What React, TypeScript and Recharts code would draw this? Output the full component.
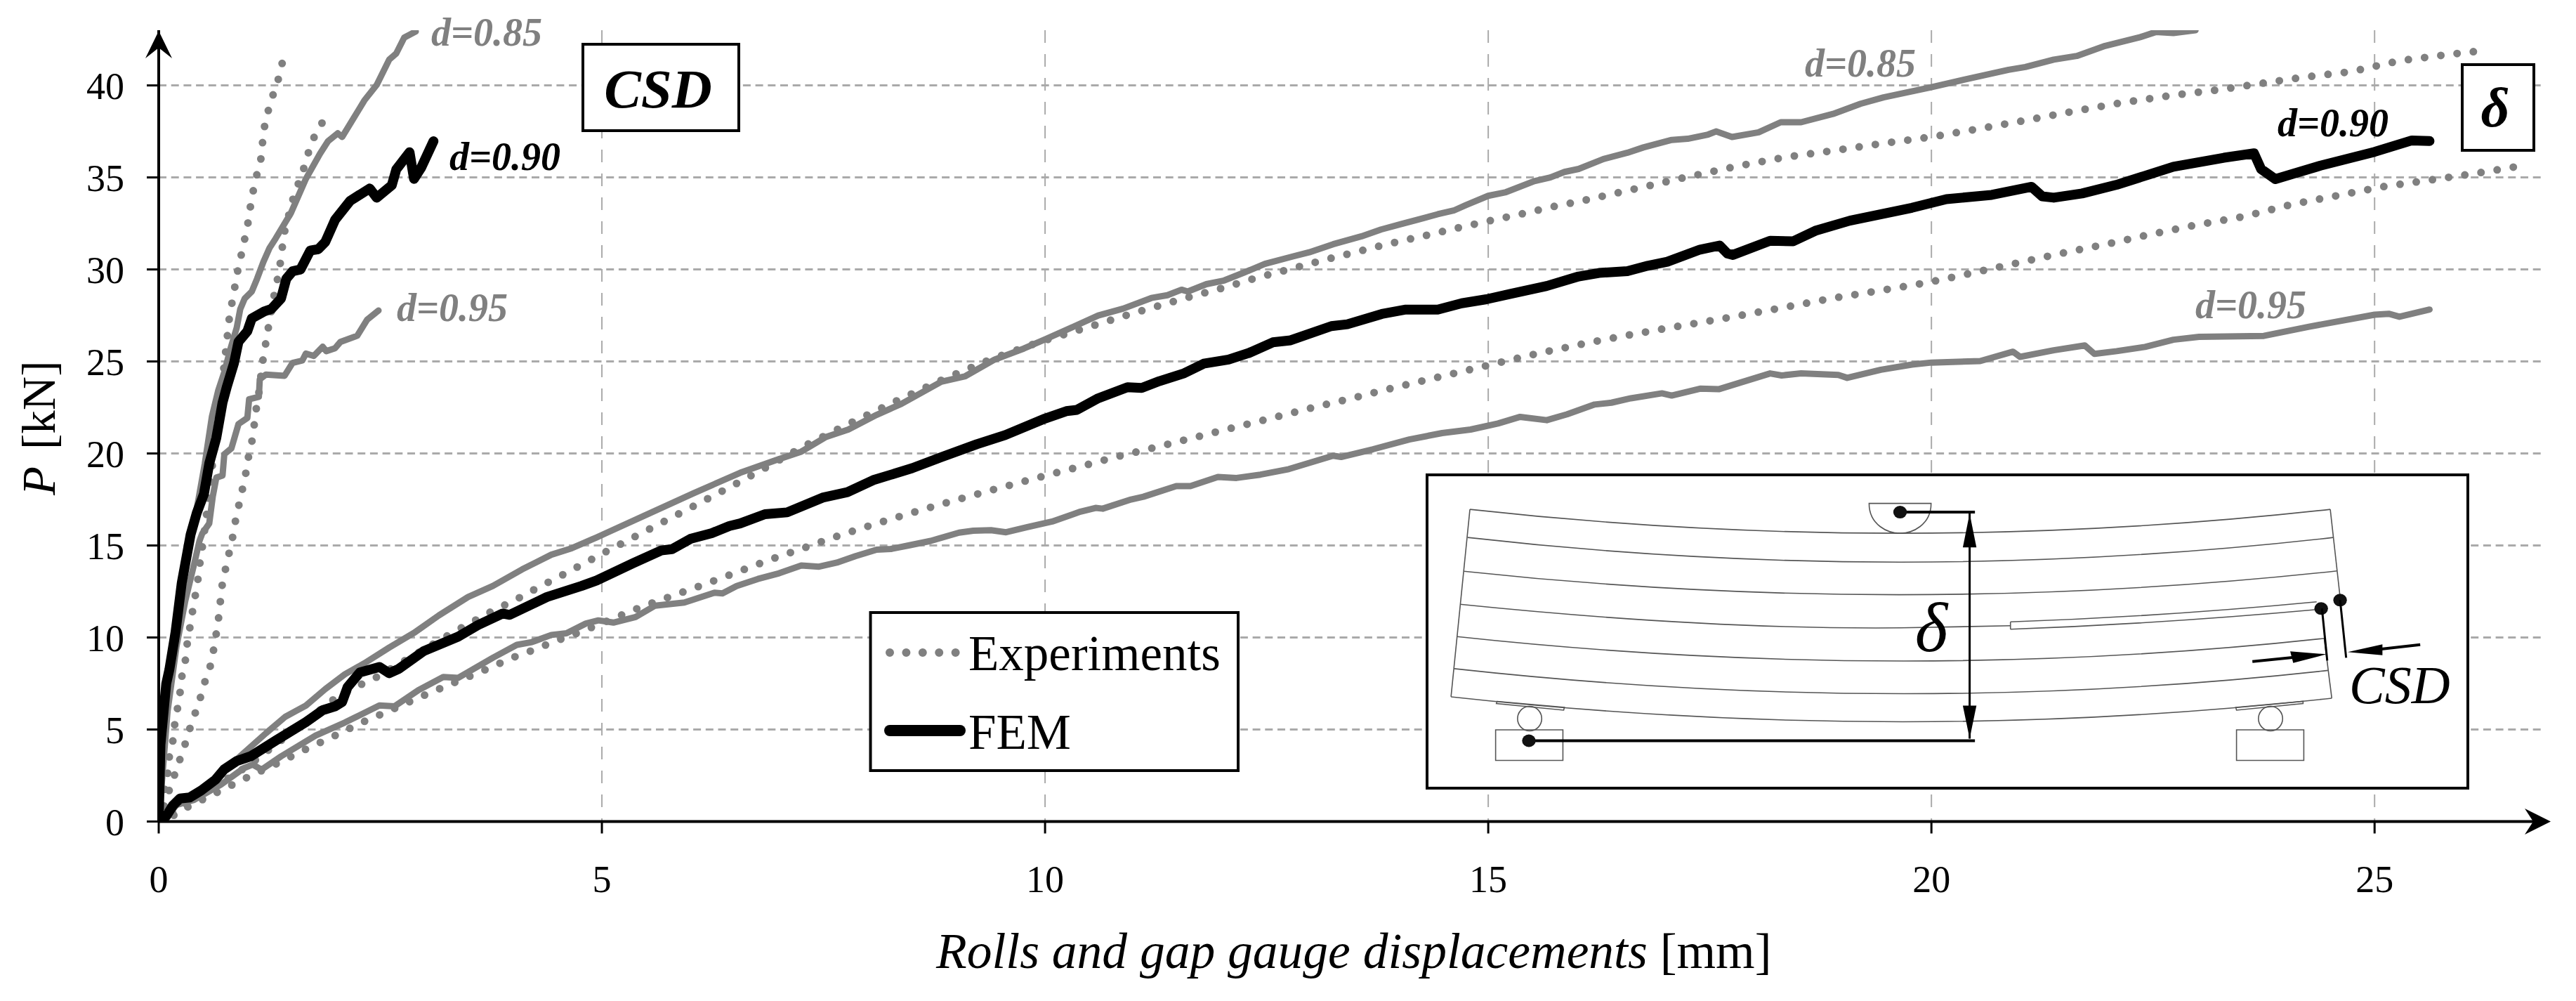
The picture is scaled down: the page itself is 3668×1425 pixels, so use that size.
import React from "react";
import { LineChart, Line, XAxis, YAxis, CartesianGrid } from "recharts";

const xTicks = [0, 5, 10, 15, 20, 25];
const yTicks = [0, 5, 10, 15, 20, 25, 30, 35, 40];

type P = [number, number];

const csdExp085: P[] = [[0,0],[0.1,2.6],[0.12,3.54],[0.16,4.4],[0.18,5.26],[0.21,6.09],[0.24,6.98],[0.26,7.86],[0.3,8.74],[0.32,9.62],[0.35,10.5],[0.38,11.38],[0.42,12.5],[0.45,13.39],[0.47,14.28],[0.5,15.16],[0.56,17.5],[0.62,20],[0.68,22.4],[0.73,24.45],[0.76,25.72],[0.78,26.63],[0.8,27.51],[0.85,28.8],[0.88,29.68],[0.92,30.55],[0.96,31.43],[1,32.33],[1.03,33.2],[1.04,33.7],[1.08,34.57],[1.12,35.43],[1.15,35.9],[1.17,36.8],[1.18,37.46],[1.22,38.33],[1.26,39.08],[1.32,39.9],[1.36,40.5],[1.4,41.36]];
const csdExp095: P[] = [[0,0],[0.06,0.8],[0.12,1.72],[0.18,2.55],[0.24,3.39],[0.3,4.24],[0.35,5.03],[0.41,5.87],[0.47,6.73],[0.52,7.58],[0.58,8.42],[0.61,9.07],[0.64,9.94],[0.67,10.83],[0.69,11.72],[0.71,12.6],[0.72,13],[0.76,13.86],[0.8,14.72],[0.84,15.58],[0.86,16.2],[0.9,17.1],[0.94,17.96],[0.98,18.86],[1.01,19.75],[1.05,20.62],[1.07,21.23],[1.09,22.12],[1.13,23.3],[1.17,24.9],[1.2,25.78],[1.24,26.93],[1.31,28.8],[1.35,29.7],[1.38,30.6],[1.41,31.86],[1.5,33.56],[1.53,34.1],[1.6,34.96],[1.65,35.69],[1.7,36.54],[1.76,37.27],[1.85,38.02]];
const deltaExp085: P[] = [[0,0],[0.3,0.9],[1,3],[1.5,4.85],[1.99,6.7],[2.29,7.46],[2.46,7.85],[3.24,10.05],[3.4,10.49],[3.57,10.93],[3.74,11.38],[3.85,11.64],[4.02,12.03],[4.17,12.43],[4.34,12.87],[4.51,13.28],[4.67,13.7],[4.83,14.1],[5,14.55],[5.5,15.8],[5.98,17],[6.47,18.24],[6.8,19.1],[7.28,20.4],[7.78,21.6],[8.36,22.94],[8.86,24.05],[9.38,25.1],[9.92,26.03],[10.47,26.84],[11,27.63],[11.35,28.12],[11.7,28.6],[12.04,29.04],[12.39,29.55],[12.75,30],[13.11,30.47],[13.47,30.9],[13.83,31.34],[14.3,31.85],[14.65,32.25],[15.01,32.64],[15.38,33.02],[15.74,33.42],[16.03,33.7],[16.4,34.1],[16.75,34.48],[17.11,34.88],[17.48,35.27],[17.84,35.64],[18.35,36.1],[18.9,36.46],[19.45,36.85],[20,37.2],[20.52,37.63],[21.06,38.1],[21.61,38.6],[22.16,39.07],[22.73,39.47],[23.27,39.78],[23.64,40.05],[24.19,40.44],[24.74,40.75],[25.28,41.34],[25.83,41.68],[26.2,41.88]];
const deltaExp095: P[] = [[0,0],[0.18,0.36],[0.33,0.8],[0.66,1.59],[0.99,2.38],[1.32,3.12],[1.66,3.93],[1.99,4.67],[2.29,5.38],[2.63,6.08],[2.96,6.79],[3.31,7.5],[3.66,8.2],[3.99,8.9],[4.26,9.38],[4.42,9.7],[4.77,10.32],[5.12,11.02],[5.46,11.69],[5.81,12.29],[6.17,12.91],[6.54,13.58],[6.89,14.22],[7.24,14.8],[7.59,15.4],[7.94,15.95],[8.29,16.48],[8.64,16.98],[9,17.48],[9.36,17.96],[9.72,18.43],[10.07,18.88],[10.43,19.33],[10.79,19.8],[11.15,20.22],[11.68,20.86],[11.98,21.23],[12.34,21.66],[12.7,22.1],[13.06,22.54],[13.42,22.95],[13.78,23.39],[14.14,23.81],[14.5,24.22],[14.86,24.63],[15.22,25.05],[15.58,25.46],[15.94,25.82],[16.15,26.04],[16.52,26.38],[16.89,26.7],[17.25,27],[17.8,27.46],[18.34,27.94],[18.89,28.44],[19.43,28.86],[19.97,29.3],[20.35,29.69],[20.9,30.28],[21.45,30.86],[22,31.4],[22.41,31.84],[22.98,32.41],[23.53,32.88],[24.07,33.54],[24.62,34.05],[25.08,34.49],[25.63,34.86],[26.18,35.25],[26.73,35.69]];

const csdFem085: P[] = [[0,0],[0.02,4],[0.1,8],[0.2,11],[0.3,14],[0.37,15.6],[0.45,17.54],[0.52,19.45],[0.6,22],[0.67,23.4],[0.74,24.42],[0.81,25.7],[0.88,26.83],[0.92,27.85],[0.97,28.42],[1.05,28.8],[1.11,29.5],[1.18,30.4],[1.25,31.16],[1.32,31.69],[1.49,33.05],[1.66,34.92],[1.82,36.29],[1.91,36.97],[2.02,37.4],[2.07,37.2],[2.18,38.07],[2.32,39.18],[2.46,40.03],[2.6,41.4],[2.68,41.74],[2.77,42.6],[2.9,42.93]];
const csdFem095: P[] = [[0,0],[0.1,6],[0.2,9.5],[0.3,12],[0.4,14],[0.46,15.25],[0.49,15.64],[0.57,16.2],[0.61,17.67],[0.65,18.69],[0.72,18.8],[0.74,19.96],[0.82,20.28],[0.9,21.6],[1,21.93],[1.02,22.95],[1.13,23.08],[1.14,24.03],[1.21,24.29],[1.42,24.22],[1.51,24.92],[1.62,25.05],[1.66,25.43],[1.75,25.3],[1.85,25.8],[1.89,25.56],[1.99,25.72],[2.05,26.06],[2.24,26.4],[2.35,27.26],[2.48,27.77]];
const csdFem090: P[] = [[0,0],[0.02,4.18],[0.085,7.49],[0.12,8.25],[0.19,10.3],[0.26,12.97],[0.36,15.6],[0.43,16.78],[0.51,17.8],[0.57,19.45],[0.65,20.85],[0.72,22.76],[0.77,23.65],[0.85,24.92],[0.9,26.07],[1,26.64],[1.05,27.34],[1.19,27.72],[1.27,27.85],[1.38,28.42],[1.44,29.5],[1.51,29.9],[1.6,30],[1.71,31.03],[1.8,31.1],[1.88,31.5],[1.99,32.7],[2.16,33.73],[2.38,34.4],[2.46,33.9],[2.63,34.58],[2.68,35.43],[2.83,36.37],[2.88,34.92],[2.96,35.52],[3.1,36.97]];

const deltaFem085: P[] = [[0,0],[0.1,0.4],[0.2,1],[0.35,1.31],[0.5,1.75],[0.66,2.4],[0.93,3.6],[1.21,4.8],[1.43,5.7],[1.66,6.3],[1.88,7.2],[2.1,8],[2.32,8.6],[2.6,9.45],[2.88,10.25],[3.16,11.2],[3.49,12.2],[3.77,12.8],[4.1,13.7],[4.43,14.5],[4.66,14.85],[4.94,15.44],[5.47,16.6],[6.04,17.85],[6.56,18.95],[6.97,19.65],[7.25,20.1],[7.53,20.9],[7.78,21.3],[8.1,22.1],[8.38,22.7],[8.83,23.9],[9.1,24.2],[9.43,25.1],[9.76,25.7],[10,26.2],[10.28,26.8],[10.6,27.5],[10.88,27.87],[11.2,28.45],[11.38,28.6],[11.54,28.9],[11.61,28.8],[11.82,29.2],[12.02,29.4],[12.25,29.84],[12.48,30.3],[12.79,30.7],[12.98,30.93],[13.25,31.37],[13.57,31.8],[13.79,32.17],[14.02,32.47],[14.2,32.7],[14.43,33],[14.61,33.2],[14.75,33.5],[15,34],[15.2,34.2],[15.52,34.8],[15.7,35],[15.86,35.3],[16.02,35.46],[16.3,36],[16.57,36.34],[16.75,36.63],[17.07,37.04],[17.25,37.1],[17.48,37.33],[17.57,37.5],[17.75,37.2],[18.05,37.45],[18.3,38],[18.53,38],[18.89,38.45],[19.2,39],[19.46,39.35],[20,39.9],[20.36,40.3],[20.87,40.85],[21.06,41],[21.38,41.4],[21.64,41.6],[21.96,42.15],[22.34,42.6],[22.53,42.9],[22.73,42.85],[22.98,43]];
const deltaFem095: P[] = [[0,0],[0.1,0.3],[0.2,0.9],[0.4,1.18],[0.7,2],[0.96,2.9],[1.06,3.1],[1.16,2.82],[1.38,3.54],[1.77,4.67],[2.1,5.38],[2.49,6.31],[2.66,6.26],[2.93,7.14],[3.21,7.85],[3.38,7.81],[3.77,8.9],[4.04,9.6],[4.21,9.75],[4.43,10.14],[4.6,10.23],[4.82,10.76],[4.96,10.93],[5.13,10.81],[5.38,11.11],[5.6,11.73],[5.93,11.9],[6.27,12.43],[6.36,12.4],[6.52,12.8],[6.76,13.18],[7,13.49],[7.25,13.91],[7.45,13.85],[7.65,14.07],[7.86,14.42],[8.1,14.77],[8.26,14.81],[8.46,15],[8.71,15.25],[9.03,15.7],[9.19,15.8],[9.39,15.83],[9.56,15.72],[9.8,16],[10.08,16.3],[10.4,16.84],[10.57,17.04],[10.65,17],[10.97,17.5],[11.11,17.65],[11.48,18.23],[11.64,18.23],[11.95,18.72],[12.16,18.67],[12.43,18.85],[12.75,19.15],[13.25,19.88],[13.34,19.81],[13.7,20.23],[14.11,20.76],[14.48,21.11],[14.8,21.3],[15.11,21.63],[15.36,21.99],[15.66,21.81],[15.89,22.13],[16.2,22.66],[16.39,22.76],[16.61,23],[16.96,23.27],[17.07,23.15],[17.39,23.52],[17.6,23.49],[18.18,24.35],[18.31,24.24],[18.53,24.35],[18.95,24.27],[19.05,24.11],[19.43,24.55],[19.78,24.83],[20,24.94],[20.55,25.02],[20.92,25.53],[21,25.25],[21.38,25.61],[21.73,25.87],[21.84,25.41],[22.09,25.56],[22.41,25.79],[22.73,26.18],[23.02,26.34],[23.75,26.39],[24.26,26.89],[25,27.54],[25.16,27.59],[25.28,27.43],[25.62,27.82]];
const deltaFem090: P[] = [[0,0],[0.085,0.29],[0.16,0.87],[0.24,1.25],[0.35,1.31],[0.48,1.69],[0.64,2.27],[0.74,2.84],[0.88,3.29],[1.04,3.55],[1.32,4.4],[1.66,5.4],[1.85,6.05],[1.99,6.26],[2.07,6.5],[2.13,7.3],[2.27,8.1],[2.49,8.4],[2.6,8.06],[2.71,8.3],[2.99,9.26],[3.38,10.05],[3.6,10.67],[3.88,11.3],[3.96,11.23],[4.38,12.2],[4.77,12.8],[4.94,13.1],[5.35,14.03],[5.67,14.73],[5.79,14.8],[6,15.36],[6.24,15.67],[6.44,16.06],[6.56,16.2],[6.84,16.7],[7.09,16.8],[7.49,17.6],[7.77,17.9],[8.06,18.55],[8.5,19.2],[8.83,19.8],[9.23,20.5],[9.55,21],[10,21.9],[10.24,22.3],[10.36,22.37],[10.6,23],[10.93,23.6],[11.09,23.56],[11.29,23.93],[11.57,24.36],[11.79,24.88],[12.07,25.1],[12.3,25.46],[12.57,26.04],[12.77,26.15],[13.23,26.92],[13.41,27.02],[13.8,27.58],[14.07,27.82],[14.43,27.82],[14.7,28.16],[14.98,28.38],[15.25,28.67],[15.66,29.1],[16.02,29.62],[16.25,29.81],[16.57,29.91],[16.8,30.2],[17.02,30.42],[17.39,31.08],[17.61,31.3],[17.7,30.86],[17.76,30.79],[18.18,31.56],[18.44,31.53],[18.69,32.1],[19.08,32.65],[19.78,33.35],[20.17,33.82],[20.68,34.05],[21.13,34.49],[21.25,33.97],[21.38,33.9],[21.7,34.13],[22.09,34.6],[22.73,35.58],[23.3,36.07],[23.64,36.31],[23.72,35.45],[23.88,34.91],[24.39,35.64],[25,36.39],[25.42,37.01],[25.62,36.98]];

const rows = (pts: P[]) => pts.map(([x, y]) => ({ x, y }));

const GRAY = "#808080";
const SERIF = "'Liberation Serif', serif";
const W = 3668;
const H = 1425;
const PLOT_TOP = 43;
const PLOT_LEFT = 226;
const PLOT_W = 3395;
const PLOT_H = 1126.5;

const dotted = [csdExp085, csdExp095, deltaExp085, deltaExp095];
const grays = [csdFem085, csdFem095, deltaFem085, deltaFem095];
const blacks = [csdFem090, deltaFem090];

const hGrid = yTicks.slice(1).map((v) => PLOT_TOP + PLOT_H * (1 - v / 43));
const vGrid = xTicks.slice(1).map((v) => PLOT_LEFT + (PLOT_W * v) / 26.9);

function Label({ x, y, fill, children }: any) {
  return (
    <text x={x} y={y} fill={fill} fontSize={56} fontWeight="bold" fontStyle="italic" fontFamily={SERIF}>
      {children}
    </text>
  );
}

function Beam() {
  const s = { fill: "none", stroke: "#555", strokeWidth: 1.6, vectorEffect: "non-scaling-stroke" } as any;
  const k = { fill: "none", stroke: "#000", strokeWidth: 4, vectorEffect: "non-scaling-stroke" } as any;
  return (
    <g transform="translate(1980 640) scale(1.0765 0.5006)">
      <path {...s} d="M105 170 Q675 306 1243 170" />
      <path {...s} d="M102 250 Q675 390 1247 250" />
      <path {...s} d="M97 346 Q675 480 1252 345" />
      <path {...s} d="M92 440 Q420 512 675 507 L820 501" />
      <path {...s} d="M820 490 Q1020 475 1225 433" />
      <path {...s} d="M820 511 Q1020 495 1225 455" />
      <path {...s} d="M820 490 V511" />
      <path {...s} d="M88 532 Q675 668 1235 537" />
      <path {...s} d="M84 623 Q675 763 1240 628" />
      <path {...s} d="M80 703 Q675 843 1245 707" />
      <path {...s} d="M105 170 L80 703" />
      <path {...s} d="M1243 170 L1256 420" />
      <path {...s} d="M1235 537 L1245 707" />
      <path {...s} d="M633 153 H715 C715 215 690 238 674 238 C658 238 633 215 633 153 Z" />
      <rect {...s} x={139} y={797} width={89} height={87} />
      <rect {...s} x={1119} y={797} width={89} height={87} />
      <ellipse {...s} cx={184} cy={765} rx={16} ry={35} />
      <ellipse {...s} cx={1164} cy={765} rx={16} ry={35} />
      <path {...s} d="M141 716 L230 733 L229 741 L140 722 Z" />
      <path {...s} d="M1118 733 L1207 716 L1207 722 L1119 741 Z" />
      <path {...k} d="M674 178 H773" />
      <path {...k} d="M183 828 H773" />
      <path {...k} d="M766 182 V822" strokeWidth={3} />
      <path fill="#000" d="M766 182 L757 278 H775 Z" />
      <path fill="#000" d="M766 822 L757 728 H775 Z" />
      <ellipse fill="#111" cx={674} cy={178} rx={9} ry={18} />
      <ellipse fill="#111" cx={183} cy={828} rx={9} ry={18} />
      <ellipse fill="#111" cx={1231} cy={452} rx={9} ry={18} />
      <ellipse fill="#111" cx={1256} cy={428} rx={9} ry={18} />
      <path {...k} d="M1232 452 L1239 600" strokeWidth={3} />
      <path {...k} d="M1256 428 L1264 592" strokeWidth={3} />
      <path {...k} d="M1140 603 L1200 590" />
      <path {...k} d="M1362 555 L1300 570" />
      <path fill="#000" d="M1238 582 L1190 574 L1194 607 Z" />
      <path fill="#000" d="M1266 576 L1312 554 L1312 585 Z" />
    </g>
  );
}

function Overlay() {
  return (
    <svg width={W} height={H} style={{ position: "absolute", left: 0, top: 0, pointerEvents: "none" }}>
      <path fill="#000" d="M226 44 L245 83 L226 68 L207 83 Z" />
      <path fill="#000" d="M3632 1169.5 L3595 1188 L3607 1169.5 L3595 1151 Z" />

      <text transform="translate(78 705) rotate(-90)" fontSize={67} fontFamily={SERIF} fill="#000">
        <tspan fontStyle="italic">P</tspan>
        <tspan dx={24}>[kN]</tspan>
      </text>
      <text x={1333} y={1378} fontSize={71.5} fontFamily={SERIF} fill="#000">
        <tspan fontStyle="italic">Rolls and gap gauge displacements</tspan>
        <tspan> [mm]</tspan>
      </text>

      <Label x={614} y={65} fill={GRAY}>d=0.85</Label>
      <Label x={640} y={242} fill="#000">d=0.90</Label>
      <Label x={565} y={457} fill={GRAY}>d=0.95</Label>
      <Label x={2570} y={109} fill={GRAY}>d=0.85</Label>
      <Label x={3243} y={194} fill="#000">d=0.90</Label>
      <Label x={3126} y={453} fill={GRAY}>d=0.95</Label>

      <rect x={830} y={63} width={222} height={123} fill="#fff" stroke="#000" strokeWidth={4} />
      <text x={937} y={153} textAnchor="middle" fontSize={79} fontWeight="bold" fontStyle="italic" fontFamily={SERIF} fill="#000">CSD</text>

      <rect x={3506} y={92} width={102} height={122} fill="#fff" stroke="#000" strokeWidth={4} />
      <text x={3553} y={180} textAnchor="middle" fontSize={80} fontWeight="bold" fontStyle="italic" fontFamily={SERIF} fill="#000">δ</text>

      <rect x={1239.5} y={872} width={523.5} height={225} fill="#fff" stroke="#000" strokeWidth={4} />
      <line x1={1267} y1={929} x2={1362} y2={929} stroke={GRAY} strokeWidth={12} strokeLinecap="round" strokeDasharray="0 23.4" />
      <line x1={1267} y1={1040} x2={1367} y2={1040} stroke="#000" strokeWidth={16} strokeLinecap="round" />
      <text x={1379} y={954} fontSize={71} fontFamily={SERIF} fill="#000">Experiments</text>
      <text x={1379} y={1066} fontSize={71} fontFamily={SERIF} fill="#000">FEM</text>

      <rect x={2032} y={676} width={1482} height={446} fill="#fff" stroke="#000" strokeWidth={4} />
      <Beam />
      <text x={2750} y={927} textAnchor="middle" fontSize={100} fontStyle="italic" fontFamily={SERIF} fill="#000">δ</text>
      <text x={3345} y={1001} fontSize={76} fontStyle="italic" fontFamily={SERIF} fill="#000">CSD</text>
    </svg>
  );
}

export default function App() {
  return (
    <div style={{ position: "absolute", left: 0, top: 0, width: W, height: H, background: "#fff" }}>
      <LineChart width={W} height={H} margin={{ top: 43, right: 47, left: 0, bottom: 155.5 }}>
        <CartesianGrid vertical={false} horizontalPoints={hGrid} stroke="#aaaaaa" strokeWidth={3} strokeDasharray="11 6.7" />
        <CartesianGrid horizontal={false} verticalPoints={vGrid} stroke="#aaaaaa" strokeWidth={2} strokeDasharray="18 16" />
        <XAxis
          type="number"
          dataKey="x"
          domain={[0, 26.9]}
          ticks={xTicks}
          interval={0}
          allowDataOverflow
          height={100}
          tickSize={17}
          tickMargin={45}
          axisLine={{ stroke: "#000", strokeWidth: 4 }}
          tickLine={{ stroke: "#000", strokeWidth: 3 }}
          tick={{ fontSize: 54, fontFamily: SERIF, fill: "#000" }}
        />
        <YAxis
          type="number"
          dataKey="y"
          domain={[0, 43]}
          ticks={yTicks}
          interval={0}
          allowDataOverflow
          width={226}
          tickSize={17}
          tickMargin={32}
          axisLine={{ stroke: "#000", strokeWidth: 4 }}
          tickLine={{ stroke: "#000", strokeWidth: 3 }}
          tick={{ fontSize: 54, fontFamily: SERIF, fill: "#000" }}
        />
        {dotted.map((pts, i) => (
          <Line key={"e" + i} data={rows(pts)} dataKey="y" type="linear" dot={false} activeDot={false} stroke={GRAY} strokeWidth={11} strokeLinecap="round" strokeDasharray="0 23.3" isAnimationActive={false} />
        ))}
        {grays.map((pts, i) => (
          <Line key={"g" + i} data={rows(pts)} dataKey="y" type="linear" dot={false} activeDot={false} stroke={GRAY} strokeWidth={9} strokeLinecap="round" strokeLinejoin="round" isAnimationActive={false} />
        ))}
        {blacks.map((pts, i) => (
          <Line key={"b" + i} data={rows(pts)} dataKey="y" type="linear" dot={false} activeDot={false} stroke="#000" strokeWidth={14} strokeLinecap="round" strokeLinejoin="round" isAnimationActive={false} />
        ))}
      </LineChart>
      <Overlay />
    </div>
  );
}
